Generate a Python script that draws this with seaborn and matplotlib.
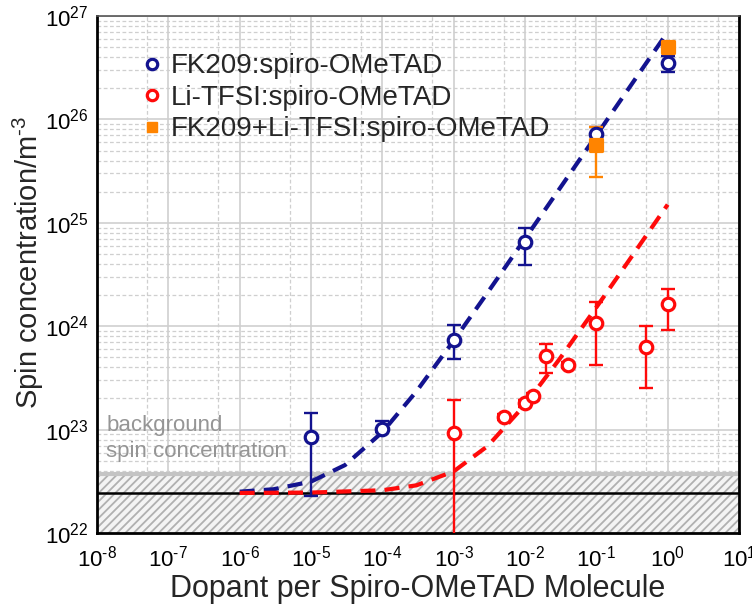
import numpy as np
import pandas as pd
import matplotlib
matplotlib.use("Agg")
import matplotlib.pyplot as plt
import seaborn as sns
from matplotlib.ticker import LogLocator, NullFormatter, FuncFormatter
from matplotlib.lines import Line2D

# ---------------- data ----------------
fk_x = [1e-5, 1e-4, 1e-3, 1e-2, 1e-1, 1.0]
fk_y = [8.4e22, 1.02e23, 7.3e23, 6.5e24, 7.2e25, 3.5e26]
fk_lo = [2.3e22, 0.94e23, 4.8e23, 3.9e24, 6.2e25, 2.9e26]
fk_hi = [1.45e23, 1.2e23, 1.02e24, 8.9e24, 8.5e25, 4.1e26]

li_x = [1e-3, 5e-3, 1e-2, 1.3e-2, 2e-2, 4e-2, 1e-1, 0.5, 1.0]
li_y = [9.2e22, 1.33e23, 1.8e23, 2.1e23, 5.1e23, 4.2e23, 1.07e24, 6.3e23, 1.64e24]
li_lo = [5e21, 1.25e23, 1.65e23, 1.95e23, 3.5e23, 3.9e23, 4.2e23, 2.5e23, 9.2e23]
li_hi = [1.94e23, 1.4e23, 1.95e23, 2.25e23, 6.8e23, 4.5e23, 1.7e24, 1.0e24, 2.3e24]

mix_x = [1e-1, 1.0]
mix_y = [5.6e25, 5.0e26]
mix_lo = [2.8e25, 5.0e26]
mix_hi = [8.5e25, 5.0e26]

# fit curves
fitb_x = [1e-6, 3e-6, 1e-5, 3e-5, 1e-4, 3e-4, 1e-3, 3e-3, 1e-2, 3e-2, 1e-1, 3e-1, 1.0]
fitb_y = [2.51e22, 2.65e22, 3.14e22, 4.54e22, 9.44e22, 2.34e23, 7.24e23, 2.12e24,
          7.02e24, 2.1e25, 7.0e25, 2.1e26, 7.0e26]
fitr_x = [1e-6, 1e-5, 1e-4, 3e-4, 1e-3, 3e-3, 1e-2, 3e-2, 1e-1, 3e-1, 1.0]
fitr_y = [2.44e22, 2.46e22, 2.59e22, 2.89e22, 3.94e22, 6.94e22, 1.74e23, 4.74e23,
          1.52e24, 4.52e24, 1.5e25]

bg_level = 2.44e22
bg_band_top = 3.7e22

labels = ["FK209:spiro-OMeTAD", "Li-TFSI:spiro-OMeTAD", "FK209+Li-TFSI:spiro-OMeTAD"]
c_blue = "#13138f"
c_red = "#ff0a0a"
c_orange = "#ff8400"
c_gray_txt = "#959595"

# ---------------- style ----------------
sns.set_theme(style="white")
plt.rcParams["font.family"] = ["Liberation Sans", "DejaVu Sans"]
plt.rcParams["mathtext.fontset"] = "custom"
plt.rcParams["mathtext.rm"] = "Liberation Sans"
plt.rcParams["mathtext.it"] = "Liberation Sans:italic"
plt.rcParams["mathtext.bf"] = "Liberation Sans:bold"
plt.rcParams["axes.unicode_minus"] = False
plt.rcParams["hatch.color"] = "#b0b0b0"
plt.rcParams["hatch.linewidth"] = 1.3

fig = plt.figure(figsize=(7.52, 6.08), dpi=100)
ax = fig.add_axes([97 / 752, 1 - 533 / 608, 642 / 752, 517 / 608])
ax.set_xscale("log")
ax.set_yscale("log")
ax.set_xlim(1e-8, 10)
ax.set_ylim(1e22, 1e27)

# grid
ax.xaxis.set_minor_locator(LogLocator(base=10, subs=[5.0], numticks=20))
ax.yaxis.set_minor_locator(LogLocator(base=10, subs=np.arange(2, 10), numticks=20))
ax.xaxis.set_minor_formatter(NullFormatter())
ax.yaxis.set_minor_formatter(NullFormatter())
ax.grid(True, which="major", color="#cfcfcf", lw=1.2, ls="-", zorder=0)
ax.grid(True, which="minor", color="#cfcfcf", lw=0.9, ls=(0, (3, 2)), zorder=0)
ax.set_axisbelow(True)

# background band
ax.axhspan(1e22, bg_band_top, facecolor="#f4f4f4", edgecolor="#b0b0b0", hatch="////",
           lw=0, zorder=1)
ax.axhline(bg_band_top, color="#c4c4c4", lw=3, zorder=1.5)
ax.axhline(bg_level, color="black", lw=1.8, zorder=2)

# fit lines
dfb = pd.DataFrame({"x": fitb_x, "y": fitb_y})
dfr = pd.DataFrame({"x": fitr_x, "y": fitr_y})
sns.lineplot(data=dfb, x="x", y="y", ax=ax, color=c_blue, lw=3.0, estimator=None,
             sort=False, zorder=3, legend=False)
sns.lineplot(data=dfr, x="x", y="y", ax=ax, color=c_red, lw=3.0, estimator=None,
             sort=False, zorder=3, legend=False)
for ln in ax.lines[-2:]:
    ln.set_dashes((3.6, 2.2))

# data with error bars
def eb(x, y, lo, hi, color, marker, mfc, ms):
    y = np.array(y); lo = np.array(lo); hi = np.array(hi)
    ax.errorbar(x, y, yerr=[y - lo, hi - y], fmt="none", ecolor=color, elinewidth=1.7,
                capsize=5, capthick=1.7, zorder=4)
    df = pd.DataFrame({"x": x, "y": y})
    sns.scatterplot(data=df, x="x", y="y", ax=ax, marker=marker, s=ms ** 2,
                    facecolor=mfc, edgecolor=color, linewidth=2.3, zorder=5, legend=False)

eb(fk_x, fk_y, fk_lo, fk_hi, c_blue, "o", "white", 9)
eb(li_x, li_y, li_lo, li_hi, c_red, "o", "white", 9)
eb(mix_x, mix_y, mix_lo, mix_hi, c_orange, "s", c_orange, 8)

# text
ax.text(1.35e-8, 8.2e22, "background\nspin concentration", color=c_gray_txt, fontsize=16,
        ha="left", va="center", linespacing=1.3, zorder=6)

# axes styling
for s in ["left", "bottom", "right"]:
    ax.spines[s].set_color("black")
    ax.spines[s].set_linewidth(2)
ax.spines["top"].set_color("#555555")
ax.spines["top"].set_linewidth(1.2)
ax.xaxis.set_major_locator(LogLocator(base=10, numticks=20))
ax.yaxis.set_major_locator(LogLocator(base=10, numticks=20))
pow_fmt = FuncFormatter(lambda v, p: r"10$^{\text{%d}}$" % int(round(np.log10(v))))
ax.xaxis.set_major_formatter(pow_fmt)
ax.yaxis.set_major_formatter(pow_fmt)
ax.tick_params(axis="both", which="major", direction="in", length=7, width=1.8,
               labelsize=16, colors="black")
ax.tick_params(axis="x", which="major", pad=9)
ax.tick_params(axis="y", which="major", pad=6)
ax.tick_params(axis="x", which="minor", length=0)
ax.tick_params(axis="y", which="minor", direction="in", length=4, width=1.2)
ax.tick_params(top=False, right=False)
ax.set_xlabel("Dopant per Spiro-OMeTAD Molecule", fontsize=22, labelpad=2)
ax.set_ylabel("Spin concentration/m$^{\\text{-3}}$", fontsize=21)
ax.yaxis.set_label_coords(-0.08, 0.524)

# legend
handles = [
    Line2D([], [], ls="none", marker="o", ms=7.5, mfc="white", mec=c_blue, mew=2.3),
    Line2D([], [], ls="none", marker="o", ms=7.5, mfc="white", mec=c_red, mew=2.3),
    Line2D([], [], ls="none", marker="s", ms=7.5, mfc=c_orange, mec=c_orange),
]
ax.legend(handles, labels, loc="upper left", bbox_to_anchor=(0.07, 0.928), frameon=False,
          fontsize=20, handlelength=0.7, handletextpad=0.35, labelspacing=0.2,
          borderpad=0, borderaxespad=0)

fig.savefig("out.png", dpi=100)
